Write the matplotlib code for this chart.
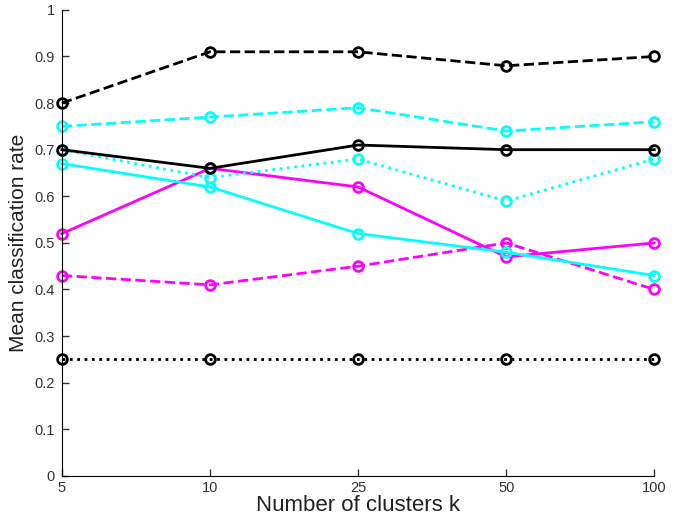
import matplotlib
matplotlib.use("Agg")
import matplotlib.pyplot as plt
import numpy as np

plt.rcParams["font.family"] = ["Liberation Sans", "DejaVu Sans"]

k_labels = ["5", "10", "25", "50", "100"]

black_dashed = [0.80, 0.91, 0.91, 0.88, 0.90]
cyan_dashed = [0.75, 0.77, 0.79, 0.74, 0.76]
black_solid = [0.70, 0.66, 0.71, 0.70, 0.70]
cyan_dotted = [0.70, 0.64, 0.68, 0.59, 0.68]
cyan_solid = [0.67, 0.62, 0.52, 0.48, 0.43]
magenta_solid = [0.52, 0.66, 0.62, 0.47, 0.50]
magenta_dashed = [0.43, 0.41, 0.45, 0.50, 0.40]
black_dotted = [0.25, 0.25, 0.25, 0.25, 0.25]

series = [
    (black_dotted, "k", ":"),
    (magenta_dashed, "#ff00ff", "--"),
    (magenta_solid, "#ff00ff", "-"),
    (cyan_solid, "#00ffff", "-"),
    (cyan_dotted, "#00ffff", ":"),
    (cyan_dashed, "#00ffff", "--"),
    (black_solid, "k", "-"),
    (black_dashed, "k", "--"),
]

fig = plt.figure(figsize=(6.88, 5.19), dpi=100)
ax = fig.add_axes([0.090, 0.083, 0.861, 0.898])

x = np.arange(len(k_labels))
for vals, color, ls in series:
    ax.plot(x, vals, color=color, linestyle=ls, linewidth=2,
            marker="o", markersize=7, markerfacecolor="none",
            markeredgewidth=2, clip_on=False)

ax.set_xlim(0, len(k_labels) - 1)
ax.set_ylim(0, 1)
ax.set_xticks(x)
ax.set_xticklabels(k_labels)
yt = np.arange(0, 1.01, 0.1)
ax.set_yticks(yt)
ax.set_yticklabels(["0"] + [f"{v:.1f}" for v in yt[1:-1]] + ["1"])
ax.tick_params(direction="in", length=5, width=1, labelsize=10.5, colors="#333333")
ax.tick_params(axis="x", pad=4)
ax.tick_params(axis="y", pad=5)
ax.spines["top"].set_visible(False)
ax.spines["right"].set_visible(False)
ax.set_xlabel("Number of clusters k", fontsize=16, color="#222222", labelpad=0)
ax.set_ylabel("Mean classification rate", fontsize=15, color="#222222", labelpad=5)

fig.savefig("out.png", dpi=100)
